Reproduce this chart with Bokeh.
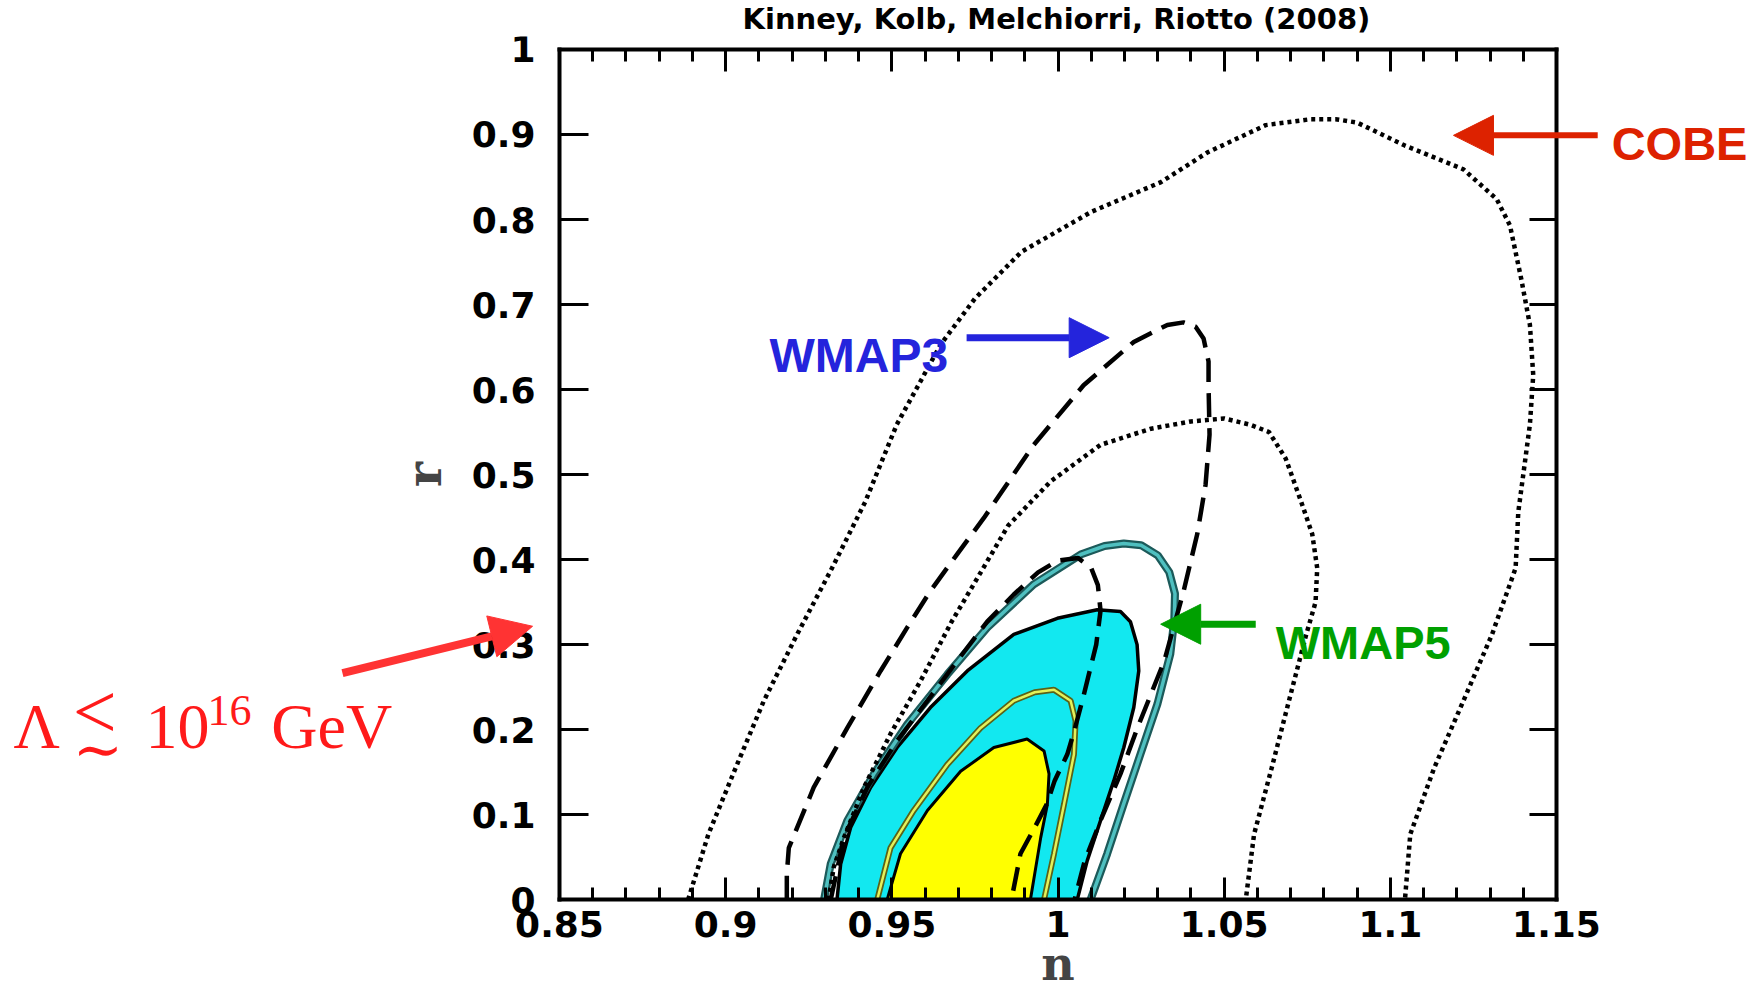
from bokeh.plotting import figure
from bokeh.models import FixedTicker, LinearAxis, Label, Arrow, NormalHead, Range1d
from bokeh.embed import file_html
from bokeh.resources import INLINE

# ---------------- data (n, r) ----------------
x_ticks = [0.85, 0.9, 0.95, 1.0, 1.05, 1.1, 1.15]
x_tick_labels = ["0.85", "0.9", "0.95", "1", "1.05", "1.1", "1.15"]
x_minor_ticks = [0.85, 0.86, 0.87, 0.88, 0.89, 0.9, 0.91, 0.92, 0.93, 0.94, 0.95, 0.96, 0.97,
                 0.98, 0.99, 1.0, 1.01, 1.02, 1.03, 1.04, 1.05, 1.06, 1.07, 1.08, 1.09, 1.1,
                 1.11, 1.12, 1.13, 1.14, 1.15]
y_ticks = [0.0, 0.1, 0.2, 0.3, 0.4, 0.5, 0.6, 0.7, 0.8, 0.9, 1.0]
y_tick_labels = ["0", "0.1", "0.2", "0.3", "0.4", "0.5", "0.6", "0.7", "0.8", "0.9", "1"]

# COBE outer (dotted)
cobe_outer_n = [0.8887, 0.8948, 0.9030, 0.9115, 0.9215, 0.9320, 0.9420, 0.9515, 0.9647, 0.9750,
                0.9890, 1.0100, 1.0310, 1.0450, 1.0625, 1.0760, 1.0835, 1.0900, 1.1044, 1.1220,
                1.1320, 1.1360, 1.1394, 1.1420, 1.1430, 1.1420, 1.1400, 1.1385, 1.1377, 1.1306,
                1.1220, 1.1132, 1.1060, 1.1044]
cobe_outer_r = [0.0, 0.077, 0.155, 0.234, 0.312, 0.390, 0.468, 0.559, 0.653, 0.707,
                0.762, 0.809, 0.844, 0.879, 0.911, 0.918, 0.918, 0.914, 0.887, 0.859,
                0.824, 0.793, 0.730, 0.676, 0.617, 0.559, 0.500, 0.456, 0.390, 0.312,
                0.234, 0.155, 0.077, 0.0]

# COBE inner (dotted)
cobe_inner_n = [0.9310, 0.9325, 0.9356, 0.9416, 0.9496, 0.9586, 0.9680, 0.9760, 0.9850, 0.9978,
                1.0128, 1.0280, 1.0400, 1.0500, 1.0580, 1.0635, 1.0685, 1.0730, 1.0765, 1.0780,
                1.0775, 1.0747, 1.0695, 1.0643, 1.0590, 1.0565]
cobe_inner_r = [0.0, 0.038, 0.073, 0.132, 0.195, 0.257, 0.327, 0.380, 0.440, 0.492,
                0.535, 0.554, 0.5625, 0.566, 0.5585, 0.550, 0.519, 0.470, 0.430, 0.390,
                0.350, 0.312, 0.234, 0.155, 0.077, 0.0]

# WMAP3 95% (dashed)
wmap3_95_n = [0.9184, 0.9184, 0.9190, 0.9265, 0.9366, 0.9466, 0.9546, 0.9614, 0.9694, 0.9777,
              0.9927, 1.0077, 1.0228, 1.0329, 1.0378, 1.0414, 1.0438, 1.0453, 1.0453, 1.0456,
              1.0444, 1.0419, 1.0378, 1.0320, 1.0239, 1.0188, 1.0130, 1.0080, 1.0050]
wmap3_95_r = [0.0, 0.030, 0.061, 0.132, 0.202, 0.269, 0.320, 0.362, 0.405, 0.449,
              0.535, 0.605, 0.656, 0.676, 0.679, 0.674, 0.660, 0.633, 0.605, 0.547,
              0.488, 0.430, 0.363, 0.281, 0.202, 0.148, 0.095, 0.045, 0.0]

# WMAP3 68% (dashed)
wmap3_68_n = [0.9316, 0.9356, 0.9426, 0.9516, 0.9607, 0.9697, 0.9787, 0.9867, 0.9940, 1.0000,
              1.0060, 1.0100, 1.0120, 1.0128, 1.0115, 1.0077, 1.0050, 1.0028, 0.9990, 0.9967,
              0.9930, 0.9887, 0.9860]
wmap3_68_r = [0.0, 0.073, 0.132, 0.187, 0.234, 0.281, 0.327, 0.359, 0.385, 0.399,
              0.402, 0.390, 0.370, 0.340, 0.300, 0.240, 0.200, 0.171, 0.140, 0.113,
              0.085, 0.054, 0.0]

# WMAP5 95% (teal line)
wmap5_95_n = [0.9296, 0.9316, 0.9366, 0.9446, 0.9546, 0.9667, 0.9787, 0.9927, 1.0068, 1.0140,
              1.0198, 1.0250, 1.0300, 1.0335, 1.0352, 1.0350, 1.0338, 1.0299, 1.0248, 1.0198,
              1.0148, 1.0098]
wmap5_95_r = [0.0, 0.042, 0.093, 0.148, 0.206, 0.265, 0.320, 0.371, 0.406, 0.416,
              0.419, 0.417, 0.405, 0.385, 0.360, 0.330, 0.289, 0.230, 0.171, 0.113,
              0.054, 0.0]

# WMAP5 68% (olive line)
wmap5_68_n = [0.9456, 0.9496, 0.9566, 0.9667, 0.9767, 0.9867, 0.9930, 0.9988, 1.0038, 1.0053,
              1.0048, 1.0018, 0.9988, 0.9958]
wmap5_68_r = [0.0, 0.061, 0.105, 0.159, 0.202, 0.234, 0.244, 0.247, 0.234, 0.210,
              0.171, 0.112, 0.054, 0.0]

# combined 95% (cyan filled, black border)
comb_95_n = [0.9335, 0.9346, 0.9376, 0.9436, 0.9516, 0.9616, 0.9727, 0.9867, 0.9998, 1.0118,
             1.0188, 1.0218, 1.0238, 1.0243, 1.0228, 1.0198, 1.0168, 1.0128, 1.0088, 1.0058]
comb_95_r = [0.0, 0.042, 0.085, 0.132, 0.179, 0.226, 0.269, 0.312, 0.331, 0.341,
             0.339, 0.327, 0.300, 0.269, 0.226, 0.179, 0.140, 0.093, 0.046, 0.0]

# combined 68% (yellow filled, black border)
comb_68_n = [0.9486, 0.9526, 0.9607, 0.9707, 0.9807, 0.9907, 0.9958, 0.9973, 0.9968, 0.9948, 0.9917]
comb_68_r = [0.0, 0.054, 0.105, 0.151, 0.179, 0.189, 0.175, 0.148, 0.112, 0.073, 0.0]

# ---------------- layout geometry (pixels) ----------------
W, H = 1756, 991
TOP = 34                       # height of the title band
X0, X1 = 559.0, 1556.0         # pixel columns of n = 0.85 and n = 1.15
Y1, Y0 = 47.0, 899.0           # pixel rows of r = 1 and r = 0
px_n = (X1 - X0) / 0.30
px_r = (Y0 - Y1) / 1.0
x_lo = 0.85 - X0 / px_n
x_hi = 0.85 + (W - X0) / px_n
y_hi = (Y0 - TOP) / px_r
y_lo = (Y0 - H) / px_r

p = figure(width=W, height=H,
           x_range=Range1d(x_lo, x_hi), y_range=Range1d(y_lo, y_hi),
           x_axis_location=None, y_axis_location=None,
           output_backend="svg", toolbar_location=None,
           min_border_left=0, min_border_right=0,
           min_border_top=TOP, min_border_bottom=0,
           title="Kinney, Kolb, Melchiorri, Riotto (2008)")
p.background_fill_color = "white"
p.border_fill_color = "white"
p.outline_line_color = None
p.grid.visible = False

p.title.align = "left"
p.title.offset = 742
p.title.text_font = "DejaVu Sans"
p.title.text_font_style = "bold"
p.title.text_font_size = "29px"
p.title.text_color = "black"
p.title.vertical_align = "middle"
p.title.standoff = 0

tick_font = "DejaVu Sans"

def make_axis(side, loc, bounds, ticks, minor, tick_in, minor_in, labels):
    ax = LinearAxis(fixed_location=loc, bounds=bounds,
                    ticker=FixedTicker(ticks=ticks, minor_ticks=minor))
    ax.axis_line_color = "black"
    ax.axis_line_width = 4
    ax.axis_line_cap = "square"
    ax.major_tick_in = tick_in
    ax.major_tick_out = 0
    ax.major_tick_line_width = 3
    ax.major_tick_line_color = "black"
    ax.minor_tick_in = minor_in
    ax.minor_tick_out = 0
    ax.minor_tick_line_width = 3
    ax.minor_tick_line_color = "black" if minor_in > 0 else None
    ax.major_label_text_font = tick_font
    ax.major_label_text_font_style = "bold"
    ax.major_label_text_color = "black"
    if labels is not None:
        ax.major_label_overrides = dict(zip(ticks, labels))
        ax.major_label_text_font_size = "36px"
    else:
        ax.major_label_text_font_size = "0px"
        ax.major_label_text_color = None
        ax.major_label_standoff = 0
    p.add_layout(ax, side)
    return ax

xax = make_axis("below", 0.0, (0.85, 1.15), x_ticks, x_minor_ticks, 22, 12, x_tick_labels)
xax.major_label_standoff = 11
xax.axis_label = "n"
xax.axis_label_text_font = "DejaVu Serif"
xax.axis_label_text_font_style = "bold"
xax.axis_label_text_font_size = "46px"
xax.axis_label_standoff = -3

yax = make_axis("left", 0.85, (0.0, 1.0), y_ticks, [], 29, 0, y_tick_labels)
yax.major_label_standoff = 24
yax.axis_label = "r"
yax.axis_label_text_font = "DejaVu Serif"
yax.axis_label_text_font_style = "bold"
yax.axis_label_text_font_size = "48px"
yax.axis_label_standoff = 17

make_axis("above", 1.0, (0.85, 1.15), x_ticks, x_minor_ticks, 22, 12, None)
make_axis("right", 1.15, (0.0, 1.0), y_ticks, [], 27, 0, None)

# ---------------- filled regions ----------------
p.patch(comb_95_n, comb_95_r, fill_color="#12e8f0", line_color=None)
p.patch(comb_68_n, comb_68_r, fill_color="#ffff00", line_color=None)
p.line(comb_95_n, comb_95_r, line_color="black", line_width=3.5)
p.line(comb_68_n, comb_68_r, line_color="black", line_width=3)

# WMAP5 contours (double lines)
p.line(wmap5_68_n, wmap5_68_r, line_color="#5a6218", line_width=6)
p.line(wmap5_68_n, wmap5_68_r, line_color="#e4f25a", line_width=2.5)
p.line(wmap5_95_n, wmap5_95_r, line_color="#1c5a5a", line_width=8)
p.line(wmap5_95_n, wmap5_95_r, line_color="#4fc0c0", line_width=3.5)

# WMAP3 dashed
p.line(wmap3_95_n, wmap3_95_r, line_color="black", line_width=4.5, line_dash="24 11")
p.line(wmap3_68_n, wmap3_68_r, line_color="black", line_width=4.5, line_dash="24 11")

# COBE dotted
p.line(cobe_outer_n, cobe_outer_r, line_color="black", line_width=4.5, line_dash="4 4")
p.line(cobe_inner_n, cobe_inner_r, line_color="black", line_width=4.5, line_dash="4 4")

# ---------------- annotations ----------------
def arrow(xs, ys, xe, ye, color, lw, size):
    p.add_layout(Arrow(end=NormalHead(size=size, fill_color=color, line_color=color),
                       x_start=xs, y_start=ys, x_end=xe, y_end=ye,
                       line_color=color, line_width=lw))

def label(x, y, text, color, size_px, font="Liberation Sans", style="bold"):
    # y is the baseline; raise it to compensate the renderer's baseline placement
    y_adj = y + 0.345 * size_px / px_r
    p.add_layout(Label(x=x, y=y_adj, text=text, text_color=color, text_font=font,
                       text_font_size=f"{size_px}px", text_font_style=style,
                       text_baseline="alphabetic", text_align="left"))

cobe_c = "#dd2200"
wmap3_c = "#2424dc"
wmap5_c = "#00a000"
lam_c = "#ff1a1a"

label(1.1666, 0.870, "COBE", cobe_c, 47)
arrow(1.1624, 0.899, 1.1190, 0.899, cobe_c, 6, 40)

label(0.9132, 0.621, "WMAP3", wmap3_c, 48)
arrow(0.9725, 0.661, 1.0154, 0.661, wmap3_c, 7, 40)

label(1.0655, 0.284, "WMAP5", wmap5_c, 47)
arrow(1.0595, 0.324, 1.0309, 0.324, wmap5_c, 7, 40)

arrow(0.7847, 0.2664, 0.8419, 0.3216, "#ff3333", 8, 42)
label(0.6857, 0.1772, "\u039b", lam_c, 64, "Liberation Serif", "normal")
label(0.7035, 0.1900, "<", lam_c, 78, "Liberation Serif", "normal")
label(0.7035, 0.1535, "\u223c", lam_c, 60, "DejaVu Serif", "normal")
label(0.7254, 0.1772, "10", lam_c, 64, "Liberation Serif", "normal")
label(0.7441, 0.2042, "16", lam_c, 44, "Liberation Serif", "normal")
label(0.7633, 0.1772, "GeV", lam_c, 64, "Liberation Serif", "normal")

open("out.html", "w").write(file_html(p, INLINE))
